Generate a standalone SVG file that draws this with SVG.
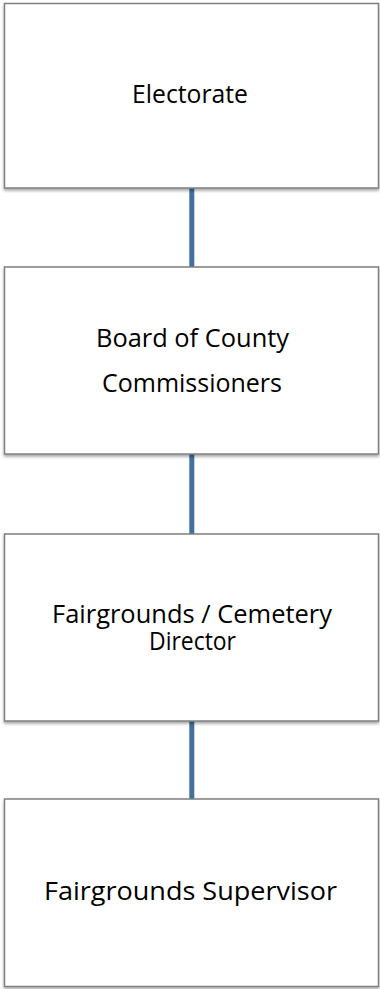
<svg xmlns="http://www.w3.org/2000/svg" width="380" height="989" viewBox="0 0 380 989">
<defs>
<filter id="sh" x="-5%" y="-5%" width="110%" height="115%">
<feDropShadow dx="0" dy="2" stdDeviation="1.5" flood-color="#000" flood-opacity="0.35"/>
</filter>
</defs>
<style>
.box{fill:#fff;stroke:#7f7f7f;stroke-width:1.5;filter:url(#sh)}
.t{font-family:"Open Sans","Noto Sans",sans-serif;font-size:25px;fill:#000;text-anchor:middle}
.c{stroke:#41719C;stroke-width:5;fill:none}
</style>
<rect width="380" height="989" fill="#fff"/>
<g id="connectors">
<line class="c" x1="191.8" y1="188" x2="191.8" y2="267"/>
<line class="c" x1="191.8" y1="454" x2="191.8" y2="534"/>
<line class="c" x1="191.8" y1="721" x2="191.8" y2="799"/>
</g>
<g id="electorate">
<rect class="box" x="4.5" y="3.5" width="374" height="184.5"/>
<text class="t" x="190" y="103" textLength="116" lengthAdjust="spacingAndGlyphs">Electorate</text>
</g>
<g id="board">
<rect class="box" x="4.5" y="267" width="374" height="187"/>
<text class="t" x="192.5" y="347" textLength="193" lengthAdjust="spacingAndGlyphs">Board of County</text>
<text class="t" x="192" y="392" textLength="180" lengthAdjust="spacingAndGlyphs">Commissioners</text>
</g>
<g id="director">
<rect class="box" x="4.5" y="534" width="374" height="187"/>
<text class="t" x="192" y="623" textLength="280" lengthAdjust="spacingAndGlyphs">Fairgrounds / Cemetery</text>
<text class="t" x="192.5" y="650" textLength="87" lengthAdjust="spacingAndGlyphs">Director</text>
</g>
<g id="supervisor">
<rect class="box" x="4.5" y="799" width="374" height="187.5"/>
<text class="t" x="190.5" y="900" textLength="293" lengthAdjust="spacingAndGlyphs">Fairgrounds Supervisor</text>
</g>
</svg>
